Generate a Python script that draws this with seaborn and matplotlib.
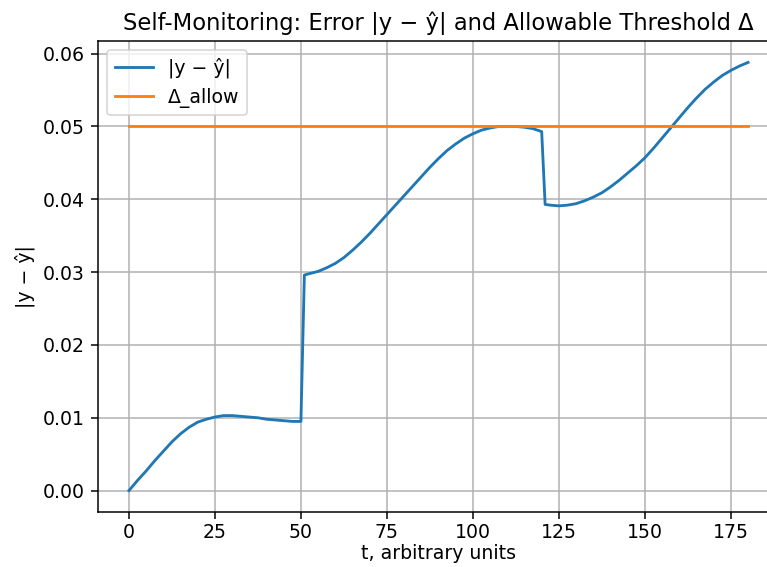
import matplotlib
matplotlib.use("Agg")
import matplotlib.pyplot as plt
import seaborn as sns
import pandas as pd

# Data
t_values = [0, 2.5, 5, 7.5, 10, 12.5, 15, 17.5, 20, 22.5, 25, 27.5, 30, 32.5,
            35, 37.5, 40, 42.5, 45, 47.5, 50, 51,
            52.5, 55, 57.5, 60, 62.5, 65, 67.5, 70, 72.5, 75, 77.5, 80, 82.5,
            85, 87.5, 90, 92.5, 95, 97.5, 100, 102.5, 105, 107.5, 110, 112.5,
            115, 117.5, 120, 121,
            122.5, 125, 127.5, 130, 132.5, 135, 137.5, 140, 142.5, 145, 147.5,
            150, 152.5, 155, 157.5, 160, 162.5, 165, 167.5, 170, 172.5, 175,
            177.5, 180]
error_values = [0.0000, 0.0014, 0.0027, 0.0041, 0.0054, 0.0067, 0.0078, 0.0087,
                0.0094, 0.0098, 0.0101, 0.0103, 0.0103, 0.0102,
                0.0101, 0.0100, 0.0098, 0.0097, 0.0096, 0.0095, 0.0095, 0.0296,
                0.0298, 0.0301, 0.0306, 0.0312, 0.0320, 0.0330, 0.0341, 0.0353,
                0.0366, 0.0379, 0.0392, 0.0405, 0.0418,
                0.0431, 0.0444, 0.0456, 0.0467, 0.0476, 0.0484, 0.0490, 0.0495,
                0.0498, 0.0500, 0.0500, 0.0500,
                0.0499, 0.0497, 0.0493, 0.0393,
                0.0392, 0.0391, 0.0392, 0.0394, 0.0398, 0.0403, 0.0409, 0.0417,
                0.0426, 0.0436, 0.0446,
                0.0457, 0.0470, 0.0484, 0.0498, 0.0512, 0.0526, 0.0539, 0.0551,
                0.0561, 0.0570, 0.0577,
                0.0583, 0.0588]
threshold_t = [0, 180]
threshold_values = [0.05, 0.05]

title = "Self-Monitoring: Error |y \u2212 \u0177| and Allowable Threshold \u0394"
xlabel = "t, arbitrary units"
ylabel = "|y \u2212 \u0177|"
label_err = "|y \u2212 \u0177|"
label_thr = "\u0394_allow"

plt.rcParams['font.family'] = ['DejaVu Sans']
S = 1.13

df_err = pd.DataFrame({"t": t_values, "err": error_values})
df_thr = pd.DataFrame({"t": threshold_t, "thr": threshold_values})

fig = plt.figure(figsize=(767 / 120, 567 / 120), dpi=120)
ax = fig.add_axes([98 / 767, 1 - 512 / 567, (779 - 98) / 767, (512 - 41) / 567])

sns.lineplot(data=df_err, x="t", y="err", ax=ax, color="#1f77b4",
             label=label_err, estimator=None, sort=False, linewidth=1.5 * S)
sns.lineplot(data=df_thr, x="t", y="thr", ax=ax, color="#ff7f0e",
             label=label_thr, estimator=None, sort=False, linewidth=1.5 * S)

ax.set_title(title, fontsize=12 * S, pad=6 * S)
ax.set_xlabel(xlabel, fontsize=10 * S, labelpad=1.5)
ax.set_ylabel(ylabel, fontsize=10 * S, labelpad=4 * S)
ax.grid(True, color="#b0b0b0", linewidth=0.8 * S)
ax.set_axisbelow('line')
ax.tick_params(labelsize=10 * S, width=0.8 * S, length=3.5 * S)
ax.tick_params(axis='y', pad=3.5 * S)
ax.tick_params(axis='x', pad=2.5)
for sp in ax.spines.values():
    sp.set_linewidth(0.8 * S)
ax.spines['right'].set_visible(False)
ax.legend(loc="upper left", fontsize=10 * S)
ax.set_xticks([0, 25, 50, 75, 100, 125, 150, 175])
ax.set_yticks([0.00, 0.01, 0.02, 0.03, 0.04, 0.05, 0.06])
ax.yaxis.set_major_formatter(matplotlib.ticker.FormatStrFormatter('%.2f'))

fig.savefig("out.png", dpi=120)
